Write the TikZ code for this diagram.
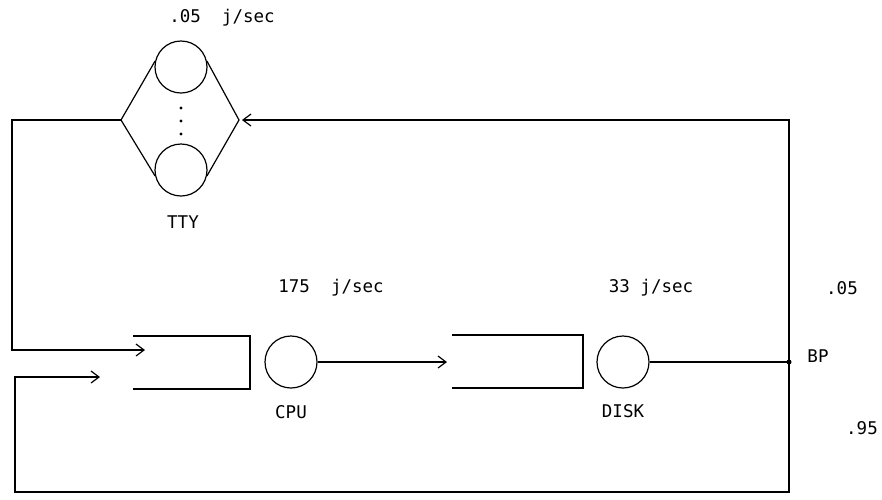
\documentclass[tikz,border=0pt]{standalone}
\usepackage{fontspec}
\setmainfont{DejaVu Sans Mono}
\usetikzlibrary{arrows.meta}
\begin{document}
\begin{tikzpicture}[x=1pt,y=-1pt, line width=1.2pt,
  srv/.style={circle,draw,minimum size=52pt,inner sep=0pt},
  lbl/.style={font=\fontsize{17.5}{19}\selectfont, inner sep=0pt},
  arr/.style={-{Straight Barb[length=8pt,width=12pt]}}]
\useasboundingbox (0,0) rectangle (882,499);
% TTY
\node[srv] (t1) at (181,67) {};
\node[srv] (t2) at (181,170) {};
\coordinate (tl) at (121,120);
\coordinate (tr) at (239,120);
\draw (t1.167) -- (tl) -- (t2.193);
\draw (t1.13) -- (tr) -- (t2.-13);
\foreach \yy in {108,121,134} \fill (181,\yy) circle (1.6);
\node[lbl] (ttyrate) at (222,18) {.05\ \ j/sec};
\node[lbl] (tty) at (183,222) {TTY};
% queues
\coordinate (q1a) at (133,336); \coordinate (q1b) at (250,336);
\coordinate (q1c) at (250,389); \coordinate (q1d) at (133,389);
\draw (q1a) -- (q1b) -- (q1c) -- (q1d);
\coordinate (q2a) at (452,335); \coordinate (q2b) at (583,335);
\coordinate (q2c) at (583,388); \coordinate (q2d) at (452,388);
\draw (q2a) -- (q2b) -- (q2c) -- (q2d);
% servers
\node[srv] (cpu) at (291,362) {};
\node[srv] (disk) at (623,362) {};
\node[lbl] (cpurate) at (331,288) {175\ \ j/sec};
\node[lbl] (cpul) at (291,412) {CPU};
\node[lbl] (diskrate) at (651,288) {33 j/sec};
\node[lbl] (diskl) at (623,411) {DISK};
% branch point
\coordinate (bp) at (789,362);
\node[lbl] (bpl) at (818,356) {BP};
\node[lbl] (p05) at (842,288) {.05};
\node[lbl] (p95) at (862,428) {.95};
% connectors
\coordinate (q2in) at (447,362);
\draw[arr] (cpu.east) -- (q2in);
\draw (disk.east) -- (bp);
\fill (bp) circle (2.5);
\coordinate (c1) at (789,120);
\coordinate (ttyin) at (242,120);
\draw[arr] (bp) -- (c1) -- (ttyin);
\coordinate (c2) at (12,120);
\coordinate (c3) at (12,350);
\coordinate (q1in1) at (145,350);
\draw[arr] (tl) -- (c2) -- (c3) -- (q1in1);
\coordinate (c4) at (789,492);
\coordinate (c5) at (15,492);
\coordinate (c6) at (15,377);
\coordinate (q1in2) at (100,377);
\draw[arr] (bp) -- (c4) -- (c5) -- (c6) -- (q1in2);
\end{tikzpicture}
\end{document}
